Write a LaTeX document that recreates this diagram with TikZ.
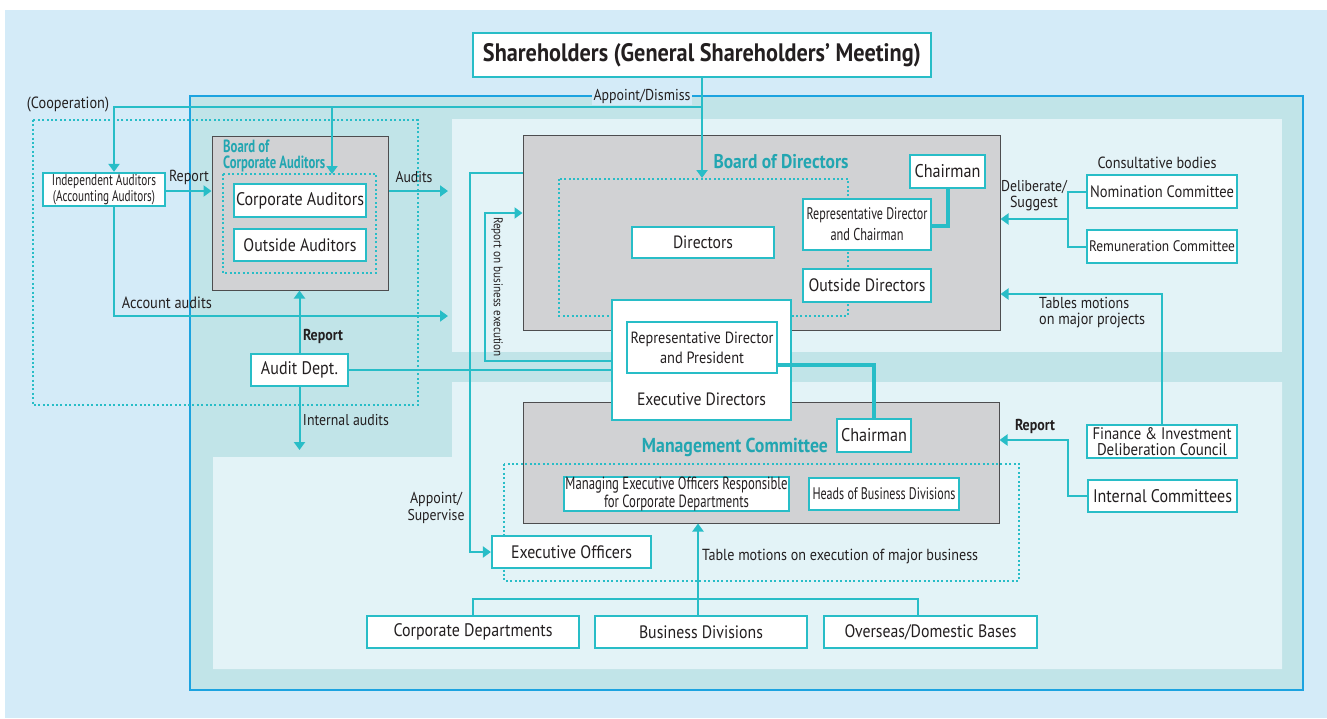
\documentclass[tikz,border=0pt]{standalone}
\usepackage{fontspec}
\setmainfont{PT Sans}[FakeStretch=0.88]
\newfontfamily\cond{PT Sans}[FakeStretch=0.72]
\usepackage{graphicx}
\usetikzlibrary{arrows.meta}
\definecolor{tl}{RGB}{40,189,199}
\definecolor{tltext}{RGB}{34,166,177}
\definecolor{bgblue}{RGB}{212,235,248}
\definecolor{framefill}{RGB}{193,228,232}
\definecolor{framedraw}{RGB}{28,163,224}
\definecolor{panel}{RGB}{227,243,247}
\definecolor{gfill}{RGB}{209,210,212}
\definecolor{gdraw}{RGB}{77,77,79}
\definecolor{txt}{RGB}{35,31,32}
\newcommand\tw[2]{\resizebox{#1pt}{!}{#2}}
\begin{document}
\begin{tikzpicture}[x=1pt,y=-1pt,
  wbox/.style={draw=tl, line width=2.2pt, fill=white, inner sep=0pt, text=txt, align=center},
  gbox/.style={draw=gdraw, line width=1pt, fill=gfill, inner sep=0pt},
  dotbox/.style={draw=tl, line width=2pt, dash pattern=on 2pt off 2.4pt},
  lbl/.style={inner sep=0pt, text=txt, align=center},
  conn/.style={draw=tl, line width=2pt},
  thk/.style={draw=tl, line width=4pt},
  arr/.style={conn, -{Triangle[width=11pt,length=8pt]}},
  ttl/.style={inner sep=0pt, text=tltext, font=\bfseries}
]
\useasboundingbox (0,0) rectangle (1327,718);
\fill[white] (0,0) rectangle (1327,718);
\fill[bgblue] (5,10) rectangle (1327,718);
\draw[framedraw, line width=2pt, fill=framefill] (190,96) rectangle (1303,690);
\fill[panel] (452,119) rectangle (1282,352);
\fill[panel] (213,457) -- (452,457) -- (452,382) -- (1282,382) -- (1282,669) -- (213,669) -- cycle;
% big dotted audit area
\draw[dotbox] (33,120) rectangle (418,405);
% gray boxes
\node[gbox, minimum width=176pt, minimum height=154pt] (BCA) at (300,213) {};
\node[gbox, minimum width=477pt, minimum height=195pt] (BOD) at (761.5,232.5) {};
\node[gbox, minimum width=476pt, minimum height=121pt] (MC) at (761,462.5) {};
% dotted groups
\draw[dotbox] (223,174) rectangle (376,273);
\draw[dotbox] (559,179) rectangle (848,316);
\draw[dotbox] (504,464) rectangle (1019,581);
% titles
\node[ttl, font=\cond\bfseries, anchor=west] (tBCA1) at (223,146.5) {\tw{46}{Board of}};
\node[ttl, font=\cond\bfseries, anchor=west] (tBCA2) at (223,163.5) {\tw{102}{Corporate Auditors}};
\node[ttl] (tBOD) at (781,162) {\tw{135}{Board of Directors}};
\node[ttl] (tMC) at (735,447) {\tw{186}{Management Committee}};
% boxes
\node[wbox, minimum width=458pt, minimum height=44pt, font=\bfseries] (SH) at (702,55) {\tw{438}{Shareholders (General Shareholders’ Meeting)}};
\node[wbox, minimum width=122pt, minimum height=33pt, font=\cond\fontsize{10}{15.5}\selectfont] (IA) at (104,189.5) {\tw{104}{Independent Auditors}\\\tw{102}{(Accounting Auditors)}};
\node[wbox, minimum width=132pt, minimum height=33pt] (CA) at (300,200.5) {\tw{128}{Corporate Auditors}};
\node[wbox, minimum width=132pt, minimum height=32pt] (OA) at (300,245) {\tw{113}{Outside Auditors}};
\node[wbox, minimum width=97pt, minimum height=32pt] (AD) at (299.5,370) {\tw{77}{Audit Dept.}};
\node[wbox, minimum width=142pt, minimum height=31pt] (DIR) at (703,242.5) {\tw{60}{Directors}};
\node[wbox, minimum width=128pt, minimum height=51pt, font=\cond\fontsize{10}{21}\selectfont] (RDC) at (867,224.5) {\tw{121}{Representative Director}\\\tw{73}{and Chairman}};
\node[wbox, minimum width=75pt, minimum height=33pt] (CH1) at (947.5,171.5) {\tw{66}{Chairman}};
\node[wbox, minimum width=128pt, minimum height=33pt] (OD) at (867,285.5) {\tw{117}{Outside Directors}};
\node[wbox, minimum width=179pt, minimum height=120pt] (ED) at (701.5,360) {};
\node[lbl] (tED) at (701.5,399) {\tw{129}{Executive Directors}};
\node[wbox, minimum width=150pt, minimum height=51pt, font=\fontsize{10}{20}\selectfont] (RDP) at (702,347.5) {\tw{143}{Representative Director}\\\tw{84}{and President}};
\node[wbox, minimum width=74pt, minimum height=33pt] (CH2) at (874,435.5) {\tw{66}{Chairman}};
\node[wbox, minimum width=225pt, minimum height=32pt, font=\cond\fontsize{10}{14.5}\selectfont] (MEO) at (676.5,494) {\tw{222}{Managing Executive Officers Responsible}\\\tw{145}{for Corporate Departments}};
\node[wbox, minimum width=150pt, minimum height=32pt, font=\cond] (HBD) at (884,494) {\tw{143}{Heads of Business Divisions}};
\node[wbox, minimum width=159pt, minimum height=32pt] (EO) at (571.5,552) {\tw{121}{Executive Officers}};
\node[wbox, minimum width=212pt, minimum height=32pt] (CD) at (473,632) {\tw{159}{Corporate Departments}};
\node[wbox, minimum width=212pt, minimum height=32pt] (BD) at (701,632) {\tw{124}{Business Divisions}};
\node[wbox, minimum width=213pt, minimum height=32pt] (OB) at (930.5,632) {\tw{172}{Overseas/Domestic Bases}};
\node[wbox, minimum width=149pt, minimum height=32pt] (IC) at (1162.5,496) {\tw{139}{Internal Committees}};
\node[wbox, minimum width=150pt, minimum height=33pt, font=\fontsize{10}{16}\selectfont] (FI) at (1162,441.5) {\tw{139}{Finance \& Investment}\\\tw{130}{Deliberation Council}};
\node[wbox, minimum width=150pt, minimum height=33pt] (NC) at (1162,191.5) {\tw{144}{Nomination Committee}};
\node[wbox, minimum width=150pt, minimum height=33pt] (RC) at (1162,246.5) {\tw{146}{Remuneration Committee}};
% coordinates
\coordinate (coop) at (114,107);
\coordinate (bcatop) at (332,174);
\coordinate (bodtop) at (702,178);
\coordinate (audr) at (448,191);
\coordinate (aa) at (448,316);
\coordinate (iaud) at (300,450);
\coordinate (rb) at (485,213);
\coordinate (rbl) at (485,361);
\coordinate (as) at (470,173);
\coordinate (del) at (1068,219);
\coordinate (tm) at (1162,294);
\coordinate (rr) at (1068,440);
\coordinate (bar) at (698,599);
\coordinate (obt) at (918,599);
% connectors
\draw[arr] (SH.south) -- (bodtop);
\draw[arr] (SH.south |- coop) -- (coop) -- (coop |- IA.north);
\draw[arr] (bcatop |- coop) -- (bcatop);
\draw[arr] (IA.east |- audr) -- (BCA.west |- audr);
\draw[arr] (BCA.east |- audr) -- (audr);
\draw[arr] (coop |- IA.south) -- (coop |- aa) -- (aa);
\draw[arr] (AD.north) -- (AD.north |- BCA.south);
\draw[arr] (AD.south) -- (AD.south |- iaud);
\draw[conn] (AD.east) -- (AD.east -| ED.west);
\draw[arr] (rbl -| ED.west) -- (rbl) -- (rb) -- (rb -| BOD.west);
\draw[arr] (as -| BOD.west) -- (as) -- (as |- EO.west) -- (EO.west);
\draw[thk] (CH1.south) -- (CH1.south |- 0,226) -- (RDC.east |- 0,226);
\draw[thk] (RDP.east |- 0,365) -- (CH2.north |- 0,365) -- (CH2.north);
\draw[conn] (NC.west) -- (del |- NC.west) -- (del |- RC.west) -- (RC.west);
\draw[arr] (del) -- (del -| BOD.east);
\draw[arr] (FI.north) -- (tm) -- (tm -| BOD.east);
\draw[arr] (IC.west) -- (rr |- IC.west) -- (rr) -- (rr -| MC.east);
\draw[conn] (CD.north) -- (CD.north |- bar) -- (obt) -- (obt |- OB.north);
\draw[arr] (BD.north -| bar) -- (bar |- MC.south);
% labels
\node[lbl, fill=bgblue, inner sep=1.5pt] (lAD) at (642,96) {\tw{97}{Appoint/Dismiss}};
\node[lbl] (lCoop) at (68,105) {\tw{82}{(Cooperation)}};
\node[lbl] (lRep1) at (189,177) {\tw{40}{Report}};
\node[lbl] (lAud) at (414,177) {\tw{37}{Audits}};
\node[lbl] (lAcc) at (167,303) {\tw{90}{Account audits}};
\node[lbl, font=\bfseries] (lRep2) at (323,336) {\tw{40}{Report}};
\node[lbl] (lInt) at (346,420) {\tw{86}{Internal audits}};
\node[lbl, rotate=-90] (lRB) at (497,287) {\tw{140}{Report on business execution}};
\node[lbl, font=\fontsize{10}{17}\selectfont] (lAS) at (436,508) {\tw{52}{Appoint/}\\\tw{57}{Supervise}};
\node[lbl, anchor=west] (lTM) at (702,557) {\tw{276}{Table motions on execution of major business}};
\node[lbl] (lCB) at (1157,163) {\tw{119}{Consultative bodies}};
\node[lbl, font=\fontsize{10}{16}\selectfont] (lDel) at (1034,196) {\tw{66}{Deliberate/}\\\tw{48}{Suggest}};
\node[lbl, font=\fontsize{10}{16}\selectfont, anchor=west, align=left] (lTab) at (1039,313) {\tw{90}{Tables motions}\\\tw{106}{on major projects}};
\node[lbl, font=\bfseries] (lRep3) at (1035,426) {\tw{40}{Report}};
\end{tikzpicture}
\end{document}
